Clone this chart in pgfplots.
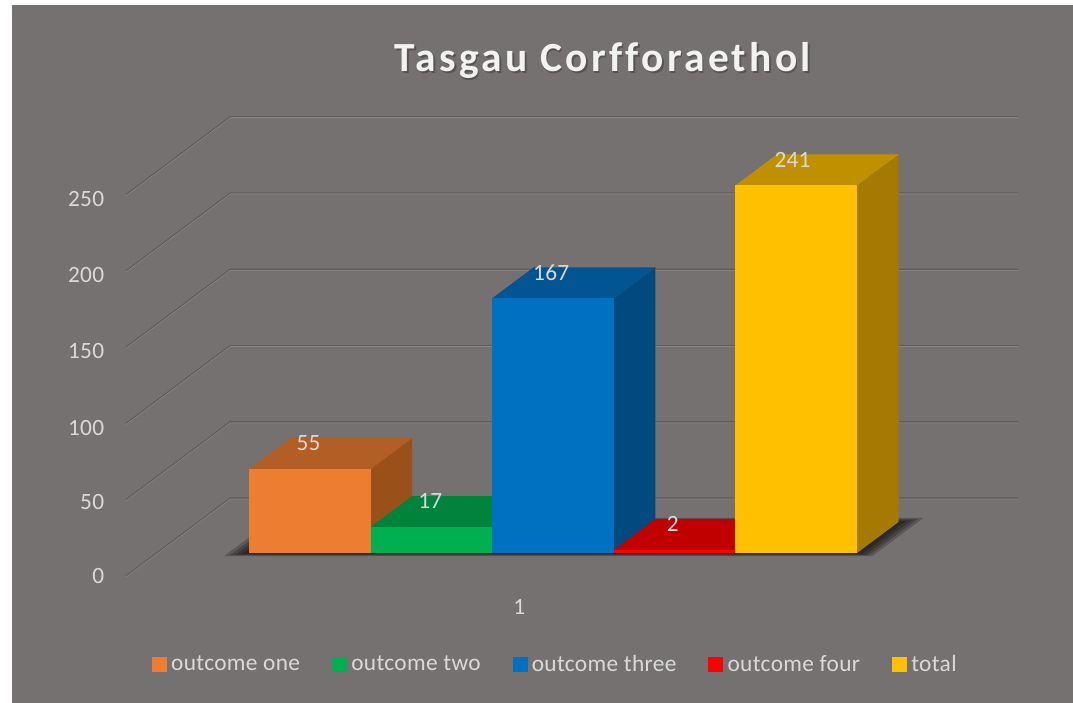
\documentclass[border=0pt]{standalone}
\usepackage{fontspec}
\setmainfont{Carlito}
\usepackage{pgfplots}
\pgfplotsset{compat=1.18}
\definecolor{bg}{HTML}{767171}
\definecolor{txt}{HTML}{D9D9D9}
\definecolor{gdark}{HTML}{5F5C5A}
\definecolor{glight}{HTML}{8F8B88}
\definecolor{oF}{HTML}{ED7D31}\definecolor{oT}{HTML}{B35E24}\definecolor{oS}{HTML}{9A5019}
\definecolor{gF}{HTML}{00B050}\definecolor{gT}{HTML}{00843C}\definecolor{gS}{HTML}{006F32}
\definecolor{bF}{HTML}{0070C0}\definecolor{bT}{HTML}{005592}\definecolor{bS}{HTML}{004A80}
\definecolor{rF}{HTML}{FF0000}\definecolor{rT}{HTML}{C00000}\definecolor{rS}{HTML}{A50000}
\definecolor{yF}{HTML}{FFC000}\definecolor{yT}{HTML}{C09000}\definecolor{yS}{HTML}{A47B00}
% x0, x1, value, colour prefix, label x
\newcommand{\barbox}[5]{%
  \addplot3[forget plot,fill=#4S,draw=none] coordinates {(#2,0,0)(#2,1,0)(#2,1,#3)(#2,0,#3)};
  \addplot3[forget plot,fill=#4T,draw=none] coordinates {(#1,0,#3)(#2,0,#3)(#2,1,#3)(#1,1,#3)};
  \addplot3[forget plot,fill=#4F,draw=none] coordinates {(#1,0,0)(#2,0,0)(#2,0,#3)(#1,0,#3)};
  \node[font=\fontsize{17.5pt}{20pt}\selectfont\addfontfeatures{LetterSpace=1},text=txt,inner sep=0pt] at (axis cs:#5,0,#3) [yshift=19.2pt] {#3};
}
\newcommand{\wall}[1]{%
  \addplot3[forget plot,draw=glight,line width=0.6pt,yshift=-0.7pt] coordinates {(5.72,1.774,#1)(-0.76,1.774,#1)(-0.76,-0.742,#1)};
  \addplot3[forget plot,draw=gdark,line width=0.8pt] coordinates {(5.72,1.774,#1)(-0.76,1.774,#1)(-0.76,-0.742,#1)};
}
\newcommand{\shadow}[4]{%
  \addplot3[forget plot,fill=black,fill opacity=0.22,draw=none] coordinates {(#1,#3,0)(#2,#3,0)(#2,#4,0)(#1,#4,0)};
}
\begin{document}
\begin{tikzpicture}
\begin{axis}[
  set layers=standard,
  x={(91.2pt,0pt)},y={(31.125pt,23.25pt)},z={(0pt,1.14375pt)},
  xmin=-0.76,xmax=5.72,ymin=-0.742,ymax=1.774,zmin=0,zmax=250,
  clip=false,
  axis line style={draw=none},
  major tick length=0pt,
  xtick={2.46},xticklabels={1},ytick=\empty,ztick={0,50,100,150,200,250},
  /pgf/number format/assume math mode=true,
  tick label style={font=\fontsize{17.5pt}{20pt}\selectfont\addfontfeatures{LetterSpace=1},text=txt},
  zticklabel style={xshift=-12.75pt,yshift=2.5pt},
  xticklabel style={xshift=6pt,yshift=-14pt},
  legend columns=5,
  legend style={at={(axis cs:-0.80,0,-73.2)},anchor=west,draw=none,fill=none,
    font=\fontsize{17.5pt}{20pt}\selectfont\addfontfeatures{LetterSpace=1.5},text=txt,inner sep=0pt,
    /tikz/every odd column/.append style={column sep=1.5pt},
    /tikz/every even column/.append style={column sep=22pt}},
  legend image code/.code={\fill[#1] (0pt,-5.25pt) rectangle (10.5pt,5.25pt);},
]
\begin{pgfonlayer}{axis background}
\fill[white] (axis cs:-2.0477,0,-98.36) rectangle (axis cs:6.776,0,362.6);
\fill[bg] (axis cs:-1.949,0,-98.36) rectangle (axis cs:6.776,0,359.3);
\end{pgfonlayer}
\wall{0}\wall{50}\wall{100}\wall{150}\wall{200}\wall{250}
\shadow{-0.17}{5.16}{-0.10}{1.13}
\shadow{-0.13}{5.125}{-0.08}{1.10}
\shadow{-0.09}{5.09}{-0.06}{1.07}
\shadow{-0.05}{5.05}{-0.03}{1.03}
\barbox{0}{1}{55}{o}{0.49}
\barbox{1}{2}{17}{g}{1.49}
\barbox{2}{3}{167}{b}{2.485}
\barbox{3}{4}{2}{r}{3.485}
\barbox{4}{5}{241}{y}{4.47}
\addlegendimage{oF}\addlegendentry{outcome one}
\addlegendimage{gF}\addlegendentry{outcome two}
\addlegendimage{bF}\addlegendentry{outcome three}
\addlegendimage{rF}\addlegendentry{outcome four}
\addlegendimage{yF}\addlegendentry{total}
\node[text=black,opacity=0.25,font=\fontsize{31.1pt}{34pt}\selectfont\bfseries\addfontfeatures{LetterSpace=8,Ligatures=NoCommon},inner sep=0pt] at (axis cs:2.911,0,323.2) [xshift=1.2pt,yshift=-1.5pt] {Tasgau Corfforaethol};
\node[text=white!95!black,font=\fontsize{31.1pt}{34pt}\selectfont\bfseries\addfontfeatures{LetterSpace=8,Ligatures=NoCommon},inner sep=0pt] at (axis cs:2.911,0,323.2) {Tasgau Corfforaethol};
\end{axis}
\end{tikzpicture}
\end{document}
